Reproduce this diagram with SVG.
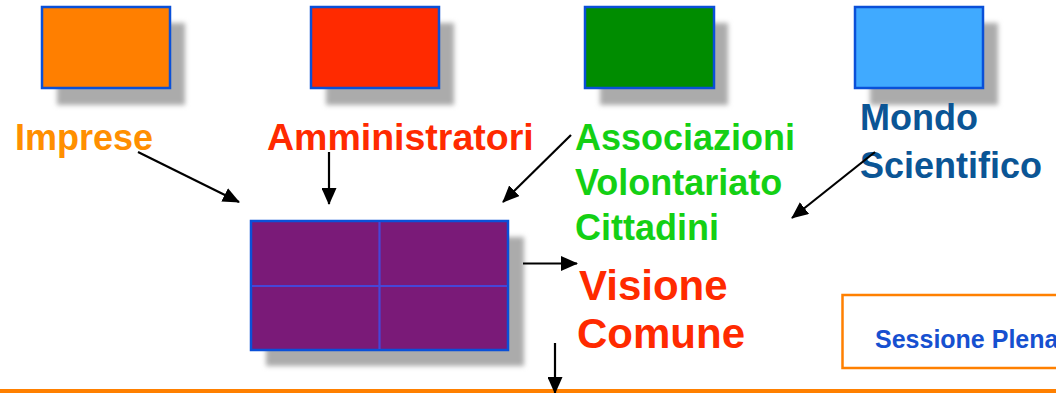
<svg xmlns="http://www.w3.org/2000/svg" width="1056" height="393" viewBox="0 0 1056 393">
  <defs>
    <filter id="blur" x="-20%" y="-20%" width="140%" height="140%">
      <feGaussianBlur stdDeviation="2.5"/>
    </filter>
    <marker id="arrow" markerUnits="userSpaceOnUse" markerWidth="17" markerHeight="15" refX="16" refY="7.5" orient="auto">
      <path d="M0,0 L17,7.5 L0,15 z" fill="#000"/>
    </marker>
  </defs>
  <style>
    .shadow { fill: #ababab; filter: url(#blur); }
    .box { stroke: #0a50d8; stroke-width: 2.5; }
    .lbl { font-family: "Liberation Sans", Arial, sans-serif; font-weight: bold; font-size: 36px; }
    .big { font-family: "Liberation Sans", Arial, sans-serif; font-weight: bold; font-size: 42px; fill: #ff2a00; }
    .conn { stroke: #000; stroke-width: 2.2; fill: none; marker-end: url(#arrow); }
  </style>
  <rect width="1056" height="393" fill="#fff"/>

  <g id="imprese">
    <rect class="shadow" x="57" y="23" width="128" height="82"/>
    <rect class="box" x="42" y="7" width="128" height="81" fill="#ff7f00"/>
    <text class="lbl" x="15" y="150" fill="#ff8f00">Imprese</text>
  </g>

  <g id="amministratori">
    <rect class="shadow" x="326" y="23" width="128" height="82"/>
    <rect class="box" x="311" y="7" width="128" height="81" fill="#ff2a00"/>
    <text class="lbl" x="267" y="150" fill="#ff2a00" style="font-size:37.5px">Amministratori</text>
  </g>

  <g id="associazioni">
    <rect class="shadow" x="600" y="23" width="128" height="82"/>
    <rect class="box" x="585" y="7" width="129" height="81" fill="#008c00"/>
    <text class="lbl" fill="#14d014"><tspan x="575" y="150">Associazioni</tspan><tspan x="575" y="195">Volontariato</tspan><tspan x="575" y="240">Cittadini</tspan></text>
  </g>

  <g id="mondo-scientifico">
    <rect class="shadow" x="870" y="23" width="128" height="82"/>
    <rect class="box" x="855" y="7" width="128" height="81" fill="#40aaff"/>
    <text class="lbl" fill="#0b5595"><tspan x="860" y="130">Mondo</tspan><tspan x="860" y="178">Scientifico</tspan></text>
  </g>

  <g id="tavolo">
    <rect class="shadow" x="266" y="237" width="258" height="129"/>
    <rect class="box" x="251" y="221" width="257" height="129" fill="#7a1a78"/>
    <line x1="379.5" y1="222" x2="379.5" y2="349" stroke="#4646d8" stroke-width="2.2"/>
    <line x1="252" y1="286" x2="507" y2="286" stroke="#4646d8" stroke-width="2.2"/>
  </g>

  <g id="visione-comune">
    <text class="big" x="579" y="300">Visione</text>
    <text class="big" x="577" y="348">Comune</text>
  </g>

  <g id="sessione-plenaria">
    <rect x="842.5" y="295" width="230" height="73" fill="#fff" stroke="#ff8000" stroke-width="2.5"/>
    <text x="875" y="347.5" font-family="'Liberation Sans', Arial, sans-serif" font-weight="bold" font-size="25" fill="#1650d0">Sessione Plena</text>
  </g>

  <g id="baseline">
    <rect x="0" y="389" width="1056" height="4" fill="#ff8000"/>
  </g>

  <g id="connectors">
    <line class="conn" x1="138" y1="152" x2="239" y2="202"/>
    <line class="conn" x1="329" y1="152" x2="329" y2="204"/>
    <line class="conn" x1="571" y1="135" x2="503" y2="202"/>
    <line class="conn" x1="875" y1="152" x2="792" y2="218"/>
    <line class="conn" x1="523" y1="263.5" x2="577" y2="263.5"/>
    <line class="conn" x1="555" y1="343" x2="555" y2="393"/>
  </g>
</svg>
